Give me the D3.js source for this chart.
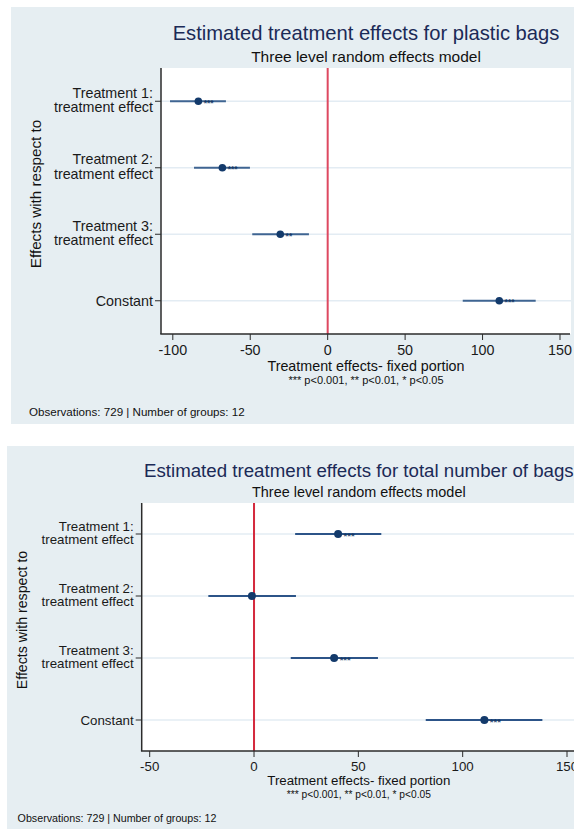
<!DOCTYPE html>
<html>
<head>
<meta charset="utf-8">
<script src="https://cdn.jsdelivr.net/npm/d3@7"></script>
<style>
  html, body { margin: 0; padding: 0; background: #ffffff; }
  svg { display: block; font-family: "Liberation Sans", Arial, Helvetica, sans-serif; }
</style>
</head>
<body>
<svg id="chart" width="574" height="829"></svg>
<script>
// Coefficient rows (same for both models)
const categories = [
  "Treatment 1: treatment effect",
  "Treatment 2: treatment effect",
  "Treatment 3: treatment effect",
  "Constant"
];
const categoryLines = [
  ["Treatment 1:", "treatment effect"],
  ["Treatment 2:", "treatment effect"],
  ["Treatment 3:", "treatment effect"],
  ["Constant"]
];

// Model 1: plastic bags
const plasticEstimate = [-83.5, -68.0, -30.6, 110.8];
const plasticLower    = [-101.8, -86.3, -48.7, 87.2];
const plasticUpper    = [-65.7, -50.2, -12.1, 134.3];
const plasticStars    = ["***", "***", "**", "***"];
const plasticTicks    = [-100, -50, 0, 50, 100, 150];

// Model 2: total number of bags
const totalEstimate = [40.3, -1.0, 38.4, 110.4];
const totalLower    = [19.7, -21.9, 17.6, 82.3];
const totalUpper    = [61.0, 20.1, 59.4, 138.2];
const totalStars    = ["***", "", "***", "***"];
const totalTicks    = [-50, 0, 50, 100, 150];

const titles = [
  "Estimated treatment effects for plastic bags",
  "Estimated treatment effects for total number of bags"
];
const subtitle = "Three level random effects model";
const xTitle = "Treatment effects- fixed portion";
const sigNote = "*** p<0.001, ** p<0.01, * p<0.05";
const yTitle = "Effects with respect to";
const footnotes = [
  "Observations: 729 |  Number of groups: 12",
  "Observations: 729 | Number of groups: 12"
];

const svg = d3.select("#chart");

function drawPanel(o) {
  const g = svg.append("g");
  const rows = categories.map((c, i) => ({
    cat: c, lines: categoryLines[i],
    est: o.est[i], lo: o.lo[i], hi: o.hi[i], star: o.stars[i]
  }));

  // panel background
  g.append("rect")
    .attr("x", o.panel[0]).attr("y", o.panel[1])
    .attr("width", o.panel[2]).attr("height", o.panel[3])
    .attr("fill", "#e6eef2");

  // plot region
  g.append("rect")
    .attr("x", o.plot[0]).attr("y", o.plot[1])
    .attr("width", o.plot[2] - o.plot[0]).attr("height", o.plot[3] - o.plot[1])
    .attr("fill", "#ffffff");

  const x = d3.scaleLinear().domain(o.xDomain).range(o.xRange);
  const y = d3.scalePoint().domain(categories).range([o.plot[1], o.plot[3]]).padding(0.5);

  const k = o.scale;

  // horizontal guide lines at each row
  g.selectAll("line.grid").data(rows).join("line")
    .attr("class", "grid")
    .attr("x1", o.plot[0]).attr("x2", o.plot[2])
    .attr("y1", d => y(d.cat)).attr("y2", d => y(d.cat))
    .attr("stroke", "#e3ecf3").attr("stroke-width", 1.6);

  // reference line at zero
  g.append("line")
    .attr("x1", x(0)).attr("x2", x(0))
    .attr("y1", o.plot[1]).attr("y2", o.plot[3])
    .attr("stroke", o.refColor).attr("stroke-width", 2);

  // confidence intervals
  g.selectAll("line.ci").data(rows).join("line")
    .attr("class", "ci")
    .attr("x1", d => x(d.lo)).attr("x2", d => x(d.hi))
    .attr("y1", d => y(d.cat)).attr("y2", d => y(d.cat))
    .attr("stroke", o.ciColor).attr("stroke-width", 2);

  // point estimates
  g.selectAll("circle.pt").data(rows).join("circle")
    .attr("class", "pt")
    .attr("cx", d => x(d.est)).attr("cy", d => y(d.cat))
    .attr("r", o.r)
    .attr("fill", "#133a6b");

  // significance stars
  g.selectAll("text.star").data(rows).join("text")
    .attr("class", "star")
    .attr("x", d => x(d.est) + o.r + 1.5)
    .attr("y", d => y(d.cat) + 4.5)
    .attr("font-size", o.starSize)
    .attr("font-weight", "bold")
    .attr("fill", "#163a68")
    .text(d => d.star);

  // y axis line
  g.append("line")
    .attr("x1", o.plot[0]).attr("x2", o.plot[0])
    .attr("y1", o.plot[1]).attr("y2", o.plot[3])
    .attr("stroke", "#2b2b2b").attr("stroke-width", 1.5);

  // y ticks and labels
  g.selectAll("line.ytick").data(rows).join("line")
    .attr("class", "ytick")
    .attr("x1", o.plot[0] - 6).attr("x2", o.plot[0])
    .attr("y1", d => y(d.cat)).attr("y2", d => y(d.cat))
    .attr("stroke", "#2b2b2b").attr("stroke-width", 1);

  // each label line is its own text element
  rows.forEach(d => {
    const cy = y(d.cat);
    const ls = o.labelSize;
    const offsets = d.lines.length === 1
      ? [ls * 0.36]
      : [-0.24 * ls, 0.77 * ls];
    d.lines.forEach((line, j) => {
      g.append("text")
        .attr("class", "ylab")
        .attr("x", o.plot[0] - 8)
        .attr("y", cy + offsets[j])
        .attr("text-anchor", "end")
        .attr("font-size", ls)
        .attr("fill", "#1a1a1a")
        .text(line);
    });
  });

  // x axis line
  g.append("line")
    .attr("x1", o.plot[0] - 0.75).attr("x2", o.axisRight)
    .attr("y1", o.plot[3]).attr("y2", o.plot[3])
    .attr("stroke", "#2b2b2b").attr("stroke-width", 1.5);

  g.selectAll("line.xtick").data(o.ticks).join("line")
    .attr("class", "xtick")
    .attr("x1", d => x(d)).attr("x2", d => x(d))
    .attr("y1", o.plot[3]).attr("y2", o.plot[3] + 6)
    .attr("stroke", "#2b2b2b").attr("stroke-width", 1);

  g.selectAll("text.xlab").data(o.ticks).join("text")
    .attr("class", "xlab")
    .attr("x", d => x(d)).attr("y", o.plot[3] + 21 * k)
    .attr("text-anchor", "middle")
    .attr("font-size", o.labelSize)
    .attr("fill", "#1a1a1a")
    .text(d => d3.format("d")(d).replace("−", "-"));

  const cx = (o.plot[0] + o.plot[2]) / 2;

  // titles
  g.append("text")
    .attr("x", cx).attr("y", o.titleY)
    .attr("text-anchor", "middle")
    .attr("font-size", o.titleSize)
    .attr("fill", "#1b2a57")
    .text(o.title);
  g.append("text")
    .attr("x", cx).attr("y", o.plot[1] - 6)
    .attr("text-anchor", "middle")
    .attr("font-size", 15.5 * k)
    .attr("fill", "#111")
    .text(subtitle);

  // axis titles
  g.append("text")
    .attr("x", cx).attr("y", o.plot[3] + 37 * k)
    .attr("text-anchor", "middle")
    .attr("font-size", 14.3 * k)
    .attr("fill", "#111")
    .text(xTitle);
  g.append("text")
    .attr("x", cx).attr("y", o.plot[3] + 50 * k)
    .attr("text-anchor", "middle")
    .attr("font-size", 11 * k)
    .attr("fill", "#111")
    .text(sigNote);

  g.append("text")
    .attr("transform", `translate(${o.yTitleX},${(o.plot[1] + o.plot[3]) / 2 - 7}) rotate(-90)`)
    .attr("text-anchor", "middle")
    .attr("font-size", o.yTitleSize)
    .attr("fill", "#111")
    .text(yTitle);

  // footnote
  g.append("text")
    .attr("x", o.footX).attr("y", o.footY)
    .attr("font-size", o.footSize)
    .attr("fill", "#111")
    .text(o.footnote);
}

drawPanel({
  panel: [11, 7, 563, 417],
  plot: [161, 68, 571, 334],
  axisRight: 570,
  xDomain: [-100, 150], xRange: [172.8, 560],
  est: plasticEstimate, lo: plasticLower, hi: plasticUpper, stars: plasticStars,
  ticks: plasticTicks,
  title: titles[0], titleY: 40, titleSize: 20.2,
  labelSize: 14.3, yTitleSize: 15.2, scale: 1, r: 3.8, starSize: 8.5,
  refColor: "#de4860", ciColor: "#3f6592",
  yTitleX: 41, footX: 29, footY: 416, footSize: 11.6,
  footnote: footnotes[0]
});

drawPanel({
  panel: [7, 446, 567, 383],
  plot: [141.7, 503, 576, 751],
  axisRight: 576,
  xDomain: [-50, 150], xRange: [149.7, 567],
  est: totalEstimate, lo: totalLower, hi: totalUpper, stars: totalStars,
  ticks: totalTicks,
  title: titles[1], titleY: 476.7, titleSize: 18.7,
  labelSize: 13.3, yTitleSize: 14.2, scale: 0.93, r: 4, starSize: 9.5,
  refColor: "#d42b3e", ciColor: "#2c5488",
  yTitleX: 27, footX: 17.6, footY: 821.7, footSize: 10.7,
  footnote: footnotes[1]
});
</script>
</body>
</html>
